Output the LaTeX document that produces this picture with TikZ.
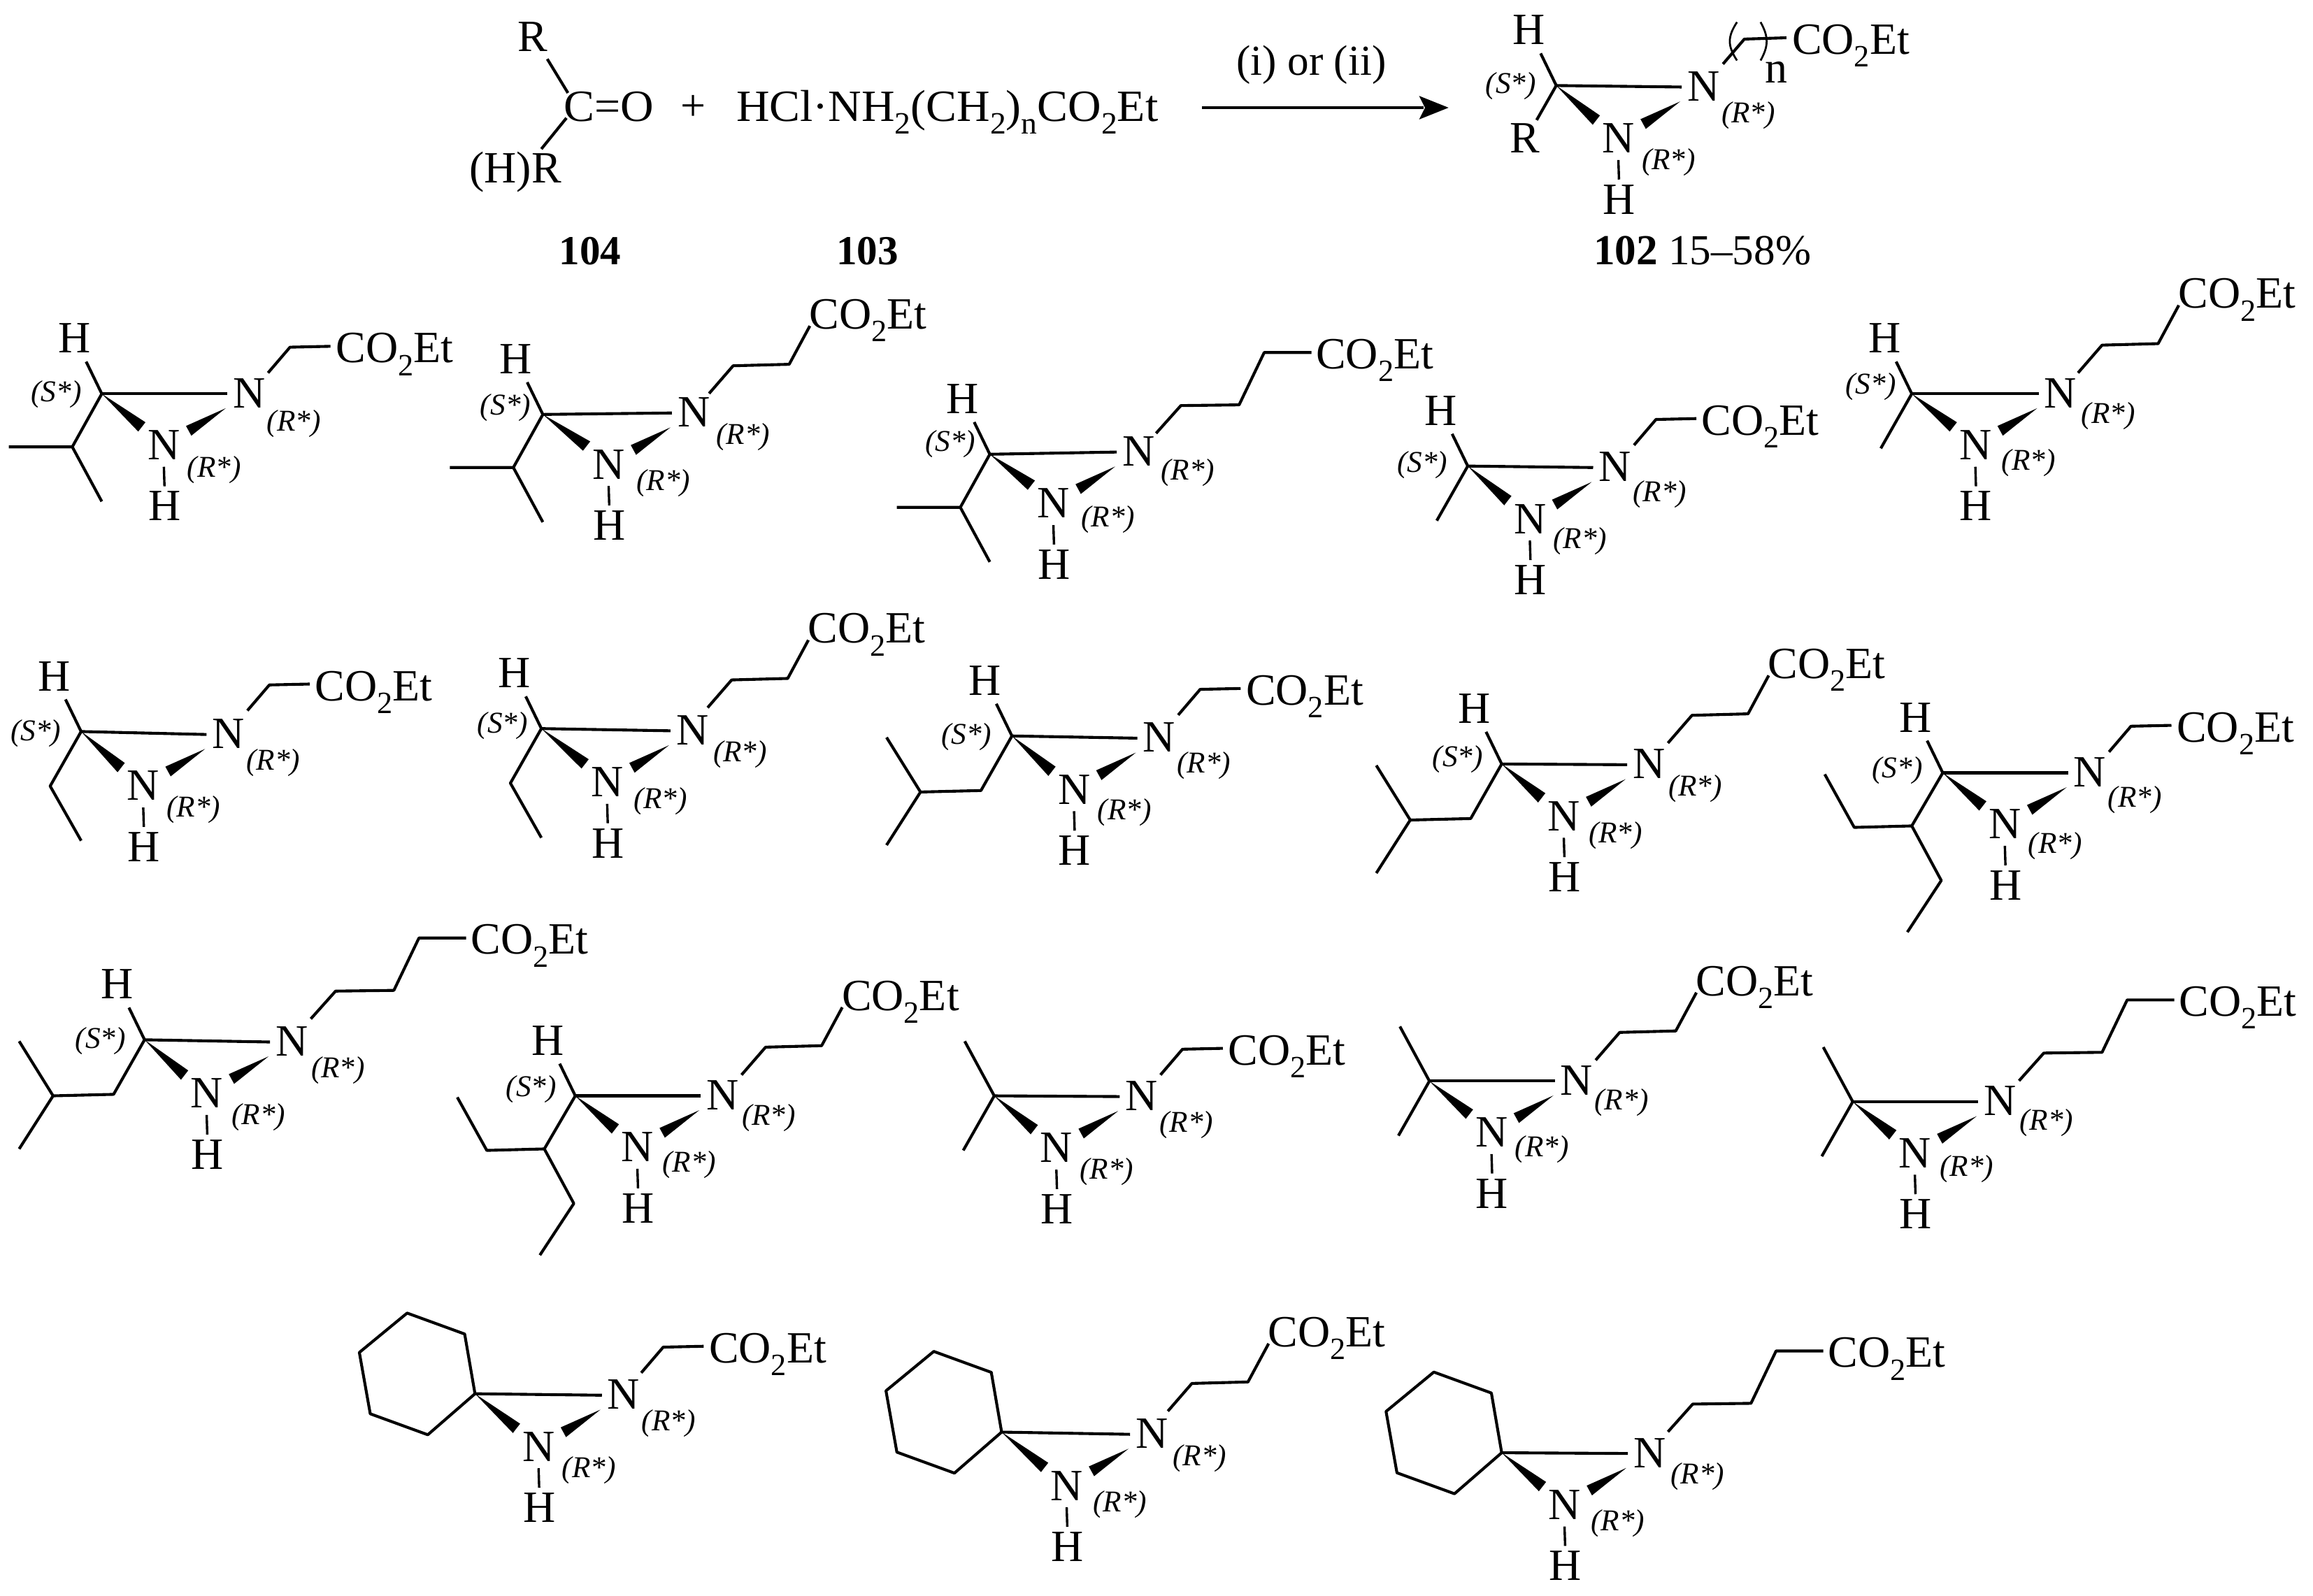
\documentclass[tikz,border=0pt]{standalone}
\usepackage{fontspec}
\setmainfont{Liberation Serif}
\newcommand\sbs[1]{\raisebox{-8.7pt}{\fontsize{21}{21}\selectfont #1}}
\newcommand\coet{CO\sbs{2}Et}
\tikzset{
  x=1pt,y=-1pt,
  bond/.style={line width=1.95pt,line cap=butt,line join=round},
  wedgeb/.style={fill=black,draw=none},
  atom/.style={inner sep=0pt,font=\fontsize{30.3}{32}\selectfont},
  stereo/.style={inner sep=0pt,font=\fontsize{20.5}{22}\selectfont\itshape},
  grp/.style={inner sep=0pt,anchor=base west,font=\fontsize{30.3}{32}\selectfont},
  capt/.style={inner sep=0pt,font=\fontsize{29}{30}\selectfont},
}
\newcommand\atomShift{0,0}
\newcommand\labShift{0,0}
\newcommand\core[1]{%
  \coordinate (#1C) at (0,0);
  \begin{scope}[shift={(\atomShift)}]
  \node[atom] (#1Na) at (99.8,-0.5) {N};
  \node[atom] (#1Nb) at (42.2,34.8) {N};
  \node[atom] (#1Hb) at (42.5,76.2) {H};
  \begin{scope}[shift={(\labShift)}]
  \node[stereo] (#1Ra) at (130.2,18.2) {(R*)};
  \node[stereo] (#1Rb) at (76.2,49.8) {(R*)};
  \end{scope}
  \coordinate (#1e1) at (85,0);
  \coordinate (#1w1) at (29.6,19.3);
  \coordinate (#1w2) at (24.7,25.6);
  \coordinate (#1w3) at (84,9.8);
  \coordinate (#1w4) at (57.1,21.8);
  \coordinate (#1w5) at (60.7,28.4);
  \coordinate (#1h1) at (42.1,49.5);
  \coordinate (#1h2) at (42.5,62.7);
  \end{scope}
  \draw[bond] (#1C) -- (#1e1);
  \draw[bond,line width=1.6pt] (#1h1) -- (#1h2);
  \fill[wedgeb] (#1C) -- (#1w1) -- (#1w2) -- cycle;
  \fill[wedgeb] (#1w3) -- (#1w4) -- (#1w5) -- cycle;
}
\newcommand\stH[1]{%
  \node[atom] (#1H) at (-18.4,-37.6) {H};
  \begin{scope}[shift={(\atomShift)}]\begin{scope}[shift={(\labShift)}]
  \node[stereo] (#1S) at (-30.8,-1.6) {(S*)};
  \end{scope}\end{scope}
  \coordinate (#1h0) at (-10.6,-21.8);
  \draw[bond] (#1C) -- (#1h0);
}
\newcommand\chA[1]{%
  \coordinate (#1c0) at (112.7,-14.2);\coordinate (#1c1) at (127.6,-31.6);\coordinate (#1c2) at (155,-32.2);
  \node[grp] (#1G) at (158.5,-21) {\coet};
  \draw[bond] (#1c0) -- (#1c1) -- (#1c2);
}
\newcommand\chB[1]{%
  \coordinate (#1c0) at (112.7,-14.2);\coordinate (#1c1) at (129,-33);\coordinate (#1c2) at (167,-34);\coordinate (#1c3) at (181,-60);
  \node[grp] (#1G) at (180.5,-58) {\coet};
  \draw[bond] (#1c0) -- (#1c1) -- (#1c2) -- (#1c3);
}
\newcommand\chC[1]{%
  \coordinate (#1c0) at (112.7,-14.2);\coordinate (#1c1) at (129.5,-33);\coordinate (#1c2) at (169,-33.5);\coordinate (#1c3) at (186,-69);\coordinate (#1c4) at (218,-69);
  \node[grp] (#1G) at (221,-58) {\coet};
  \draw[bond] (#1c0) -- (#1c1) -- (#1c2) -- (#1c3) -- (#1c4);
}
\newcommand\subIpr{\draw[bond] (0,0) -- (-20,36) -- (-63,36) (-20,36) -- (0,73);}
\newcommand\subMe{\draw[bond] (0,0) -- (-21,37);}
\newcommand\subEt{\draw[bond] (0,0) -- (-21,37) -- (0,74);}
\newcommand\subIbu{\draw[bond] (0,0) -- (-21,37) -- (-62,38) -- (-85,1) (-62,38) -- (-85,74);}
\newcommand\subPen{\draw[bond] (0,0) -- (-21,36) -- (-60,37) -- (-80,1) (-21,36) -- (-1,73) -- (-24,108);}
\newcommand\subDim{\draw[bond] (-20,-37) -- (0,0) -- (-21,37);}
\newcommand\subHex{\draw[bond] (0,0) -- (-7,-40.5) -- (-46,-54.7) -- (-78.4,-28) -- (-71,13.6) -- (-32,27.8) -- cycle;}
\newcommand\mol[8]{\begin{scope}[shift={(#2,#3)}]\renewcommand\atomShift{#7}\renewcommand\labShift{#8}\core{#1}#5{#1}#4{#1}#6\end{scope}}
\newcommand\noH[1]{}
\begin{document}
\begin{tikzpicture}
\useasboundingbox (0,0) rectangle (1568,1082);
\fill[white] (0,0) rectangle (1568,1082);
\node[atom] (tR) at (361,25) {R};
\node[atom,anchor=base west] (tCO) at (382,82) {\scalebox{1.03}[1]{C=O}};
\node[atom,anchor=base west] (tHR) at (318,124) {(H)R};
\coordinate (tc) at (385,63);
\coordinate (ta) at (371,40);
\coordinate (tb) at (384,80);
\coordinate (td) at (367,101);
\draw[bond] (ta) -- (tc);
\draw[bond] (tb) -- (td);
\node[atom] (plus) at (470,73) {+};
\node[grp] (amine) at (499,82) {\scalebox{1.03}[1]{HCl·NH\sbs{2}(CH\sbs{2})\sbs{n}\coet}};
\coordinate (arA) at (815,73);
\coordinate (arB) at (982,73);
\draw[line width=1.95pt] (arA) -- (965,73);
\fill (arB) -- (962,65) -- (966,73) -- (962,81) -- cycle;
\node[capt] (cond) at (889,44) {(i) or (ii)};
\node[capt,font=\fontsize{28}{30}\selectfont\bfseries] (c104) at (400,170) {104};
\node[capt,font=\fontsize{28}{30}\selectfont\bfseries] (c103) at (588,170) {103};
\node[capt] (c102) at (1154,170) {\textbf{102} 15–58\%};
\begin{scope}[shift={(1055,58)}]
\renewcommand\atomShift{0,1}\renewcommand\labShift{0,1}
\core{p}\stH{p}
\coordinate (pr) at (-13.3,23.4);
\draw[bond] (pC) -- (pr);
\node[atom] (pR) at (-21.2,35.5) {R};
\coordinate (pc0) at (113,-14.6);\coordinate (pc1) at (127.5,-31.5);\coordinate (pc2) at (156,-32.4);
\draw[bond] (pc0) -- (pc1) -- (pc2);
\draw[line width=1.3pt] (122.5,-43) .. controls (116,-33) and (116,-27) .. (122.5,-17);
\draw[line width=1.3pt] (138.5,-43) .. controls (144,-33) and (144,-27) .. (138.5,-17);
\node[atom] (pn) at (149.3,-9) {n};
\node[grp] (pG) at (159.7,-21.5) {\coet};
\end{scope}
\mol{a}{69}{267}{\chA}{\stH}{\subIpr}{0,0}{0,2}
\mol{b}{368}{281}{\chB}{\stH}{\subIpr}{2.5,-1}{3,-2}
\mol{c}{671}{308}{\chC}{\stH}{\subIpr}{1,-1.5}{3,-4}
\mol{d}{995}{316}{\chA}{\stH}{\subMe}{0,1}{0,0}
\mol{e}{1296}{267}{\chB}{\stH}{\subMe}{1,0}{2,-3}
\mol{f}{55}{496}{\chA}{\stH}{\subEt}{0,2}{0,1}
\mol{g}{367}{494}{\chB}{\stH}{\subEt}{2.5,1.5}{2,-2}
\mol{h}{686}{499}{\chA}{\stH}{\subIbu}{0,1.5}{0,0.5}
\mol{i}{1018}{518}{\chB}{\stH}{\subIbu}{0,0.5}{1,-2}
\mol{j}{1317}{524}{\chA}{\stH}{\subPen}{0,0}{0,0}
\mol{k}{98}{705}{\chC}{\stH}{\subIbu}{0,1.5}{1,1}
\mol{l}{390}{743}{\chB}{\stH}{\subPen}{0,0}{1,-3}
\mol{m}{674}{743}{\chA}{\noH}{\subDim}{0,0.5}{0,1}
\mol{o}{969}{733}{\chB}{\noH}{\subDim}{0,0}{0,-3.5}
\mol{q}{1256}{747}{\chC}{\noH}{\subDim}{0,0}{1,-4}
\mol{r}{322}{945}{\chA}{\noH}{\subHex}{1,1}{0,1}
\mol{s}{679}{971}{\chB}{\noH}{\subHex}{2,1.5}{2,-2}
\mol{t}{1018}{985}{\chC}{\noH}{\subHex}{0.5,0.5}{2,-2.5}
\end{tikzpicture}
\end{document}
